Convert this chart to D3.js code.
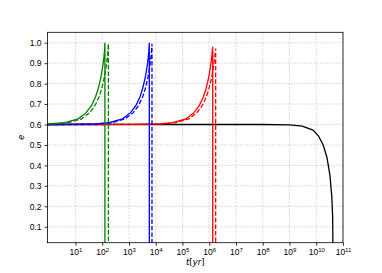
<!DOCTYPE html>
<html>
<head>
<meta charset="utf-8">
<style>
  body { margin: 0; background: #fff; }
  svg { display: block; font-family: "DejaVu Sans", sans-serif; }
  .axis text { font-size: 8.5px; fill: #000; }
  .axis line { stroke: #000; stroke-width: 0.8; }
  .axis path { display: none; }
  .grid line { stroke: #c8c8c8; stroke-width: 0.8; stroke-dasharray: 1.6,1.6; }
  .curve { fill: none; stroke-width: 1.3; }
</style>
</head>
<body>
<script src="https://cdn.jsdelivr.net/npm/d3@7"></script>
<script>

// eccentricity e against time t [yr]
var greenSolid = [[0.9,0.603],[4,0.609],[12.6,0.628],[25,0.658],[40,0.693],[56,0.735],[71,0.775],[89,0.831],[105,0.885],[115,0.927],[122,0.962],[126,1.0],[126,0.0]];
var greenDashed = [[0.9,0.602],[1.7,0.603],[5.4,0.609],[17,0.628],[34,0.658],[54,0.693],[76,0.735],[96,0.775],[120,0.831],[141,0.885],[155,0.927],[164,0.962],[170,0.995],[170,0.0]];
var blueSolid = [[0.9,0.6],[5.75,0.6003],[57.5,0.6028],[182,0.6089],[575,0.628],[1150,0.658],[1820,0.693],[2570,0.735],[3230,0.775],[4070,0.831],[4780,0.885],[5240,0.927],[5550,0.962],[5750,1.0],[5750,0.0]];
var blueDashed = [[0.9,0.6],[7.2,0.6003],[72,0.6028],[229,0.6089],[724,0.628],[1445,0.658],[2290,0.693],[3240,0.735],[4070,0.775],[5130,0.831],[6020,0.885],[6600,0.927],[6990,0.962],[7240,0.995],[7240,0.0]];
var redSolid = [[0.9,0.6],[1350,0.6003],[13500,0.6028],[42700,0.6089],[135000,0.628],[269000,0.658],[427000,0.693],[603000,0.735],[759000,0.775],[956000,0.831],[1.12e6,0.885],[1.23e6,0.927],[1.30e6,0.96],[1.35e6,0.98],[1.35e6,0.0]];
var redDashed = [[0.9,0.6],[1740,0.6003],[17400,0.6028],[55000,0.6089],[174000,0.628],[347000,0.658],[550000,0.693],[778000,0.735],[978000,0.775],[1.23e6,0.831],[1.45e6,0.885],[1.59e6,0.925],[1.68e6,0.955],[1.74e6,0.972],[1.74e6,0.0]];
var blackSolid = [[0.9,0.6],[1e8,0.6],[1e9,0.598],[3e9,0.592],[7.6e9,0.573],[1.2e10,0.545],[1.82e10,0.5],[2.5e10,0.44],[3.24e10,0.353],[3.8e10,0.25],[4.1e10,0.15],[4.2e10,0.0]];

var xTicks = [1e1,1e2,1e3,1e4,1e5,1e6,1e7,1e8,1e9,1e10,1e11];
var yTicks = [0.1,0.2,0.3,0.4,0.5,0.6,0.7,0.8,0.9,1.0];

// drawn bottom to top
var series = [
    {data: blackSolid,  color: "#000000", dashed: false},
    {data: redSolid,    color: "#ff0000", dashed: false},
    {data: redDashed,   color: "#ff0000", dashed: true},
    {data: blueSolid,   color: "#0000ff", dashed: false},
    {data: blueDashed,  color: "#0000ff", dashed: true},
    {data: greenSolid,  color: "#008000", dashed: false},
    {data: greenDashed, color: "#008000", dashed: true},
];

var W = 382, H = 273;
var margin = {top: 32.3, right: 39, bottom: 30.3, left: 47.5},
    width = W - margin.left - margin.right,
    height = H - margin.top - margin.bottom;

var x = d3.scaleLog().domain([0.9, 1e11]).range([0, width]);
var y = d3.scaleLinear().domain([0.022, 1.051]).range([height, 0]);

var svg = d3.select("body").append("svg")
    .attr("width", W)
    .attr("height", H)
  .append("g")
    .attr("transform", `translate(${margin.left},${margin.top})`);

svg.append("defs").append("clipPath").attr("id", "clip")
  .append("rect").attr("width", width).attr("height", height);

// grid
svg.append("g").attr("class", "grid")
    .selectAll("line.v").data(xTicks).enter().append("line")
    .attr("x1", d => x(d)).attr("x2", d => x(d))
    .attr("y1", 0).attr("y2", height);
svg.append("g").attr("class", "grid")
    .selectAll("line.h").data(yTicks).enter().append("line")
    .attr("x1", 0).attr("x2", width)
    .attr("y1", d => y(d)).attr("y2", d => y(d));

// curves
var line = d3.line().x(d => x(d[0])).y(d => y(d[1]));
svg.append("g").attr("clip-path", "url(#clip)")
    .selectAll("path").data(series).enter().append("path")
    .attr("class", "curve")
    .attr("d", d => line(d.data))
    .attr("stroke", d => d.color)
    .attr("stroke-dasharray", d => d.dashed ? "4.6,2" : null);

// axes
var xAxis = svg.append("g").attr("class", "axis")
    .attr("transform", "translate(0," + height + ")")
    .call(d3.axisBottom(x).tickValues(xTicks).tickSize(3).tickPadding(3).tickFormat(""));
xAxis.selectAll(".tick text")
    .attr("dy", "0.71em")
    .each(function(d) {
        var t = d3.select(this);
        t.append("tspan").text("10");
        t.append("tspan").attr("dy", "-0.45em").style("font-size", "6px").text(Math.round(Math.log10(d)));
    });

svg.append("g").attr("class", "axis")
    .call(d3.axisLeft(y).tickValues(yTicks).tickSize(3).tickPadding(3).tickFormat(d3.format(".1f")));

// frame
svg.append("rect")
    .attr("width", width).attr("height", height)
    .attr("fill", "none").attr("stroke", "#000").attr("stroke-width", 0.8);

// labels
var xl = svg.append("text")
    .attr("x", width / 2)
    .attr("y", height + 22.5)
    .attr("text-anchor", "middle")
    .style("font-size", "8.5px");
xl.append("tspan").style("font-style", "italic").text("t");
xl.append("tspan").text("[");
xl.append("tspan").style("font-style", "italic").text("yr");
xl.append("tspan").text("]");

svg.append("text")
    .attr("transform", `translate(${-24},${height / 2}) rotate(-90)`)
    .attr("text-anchor", "middle")
    .style("font-size", "8.5px")
    .style("font-style", "italic")
    .text("e");

</script>
</body>
</html>
